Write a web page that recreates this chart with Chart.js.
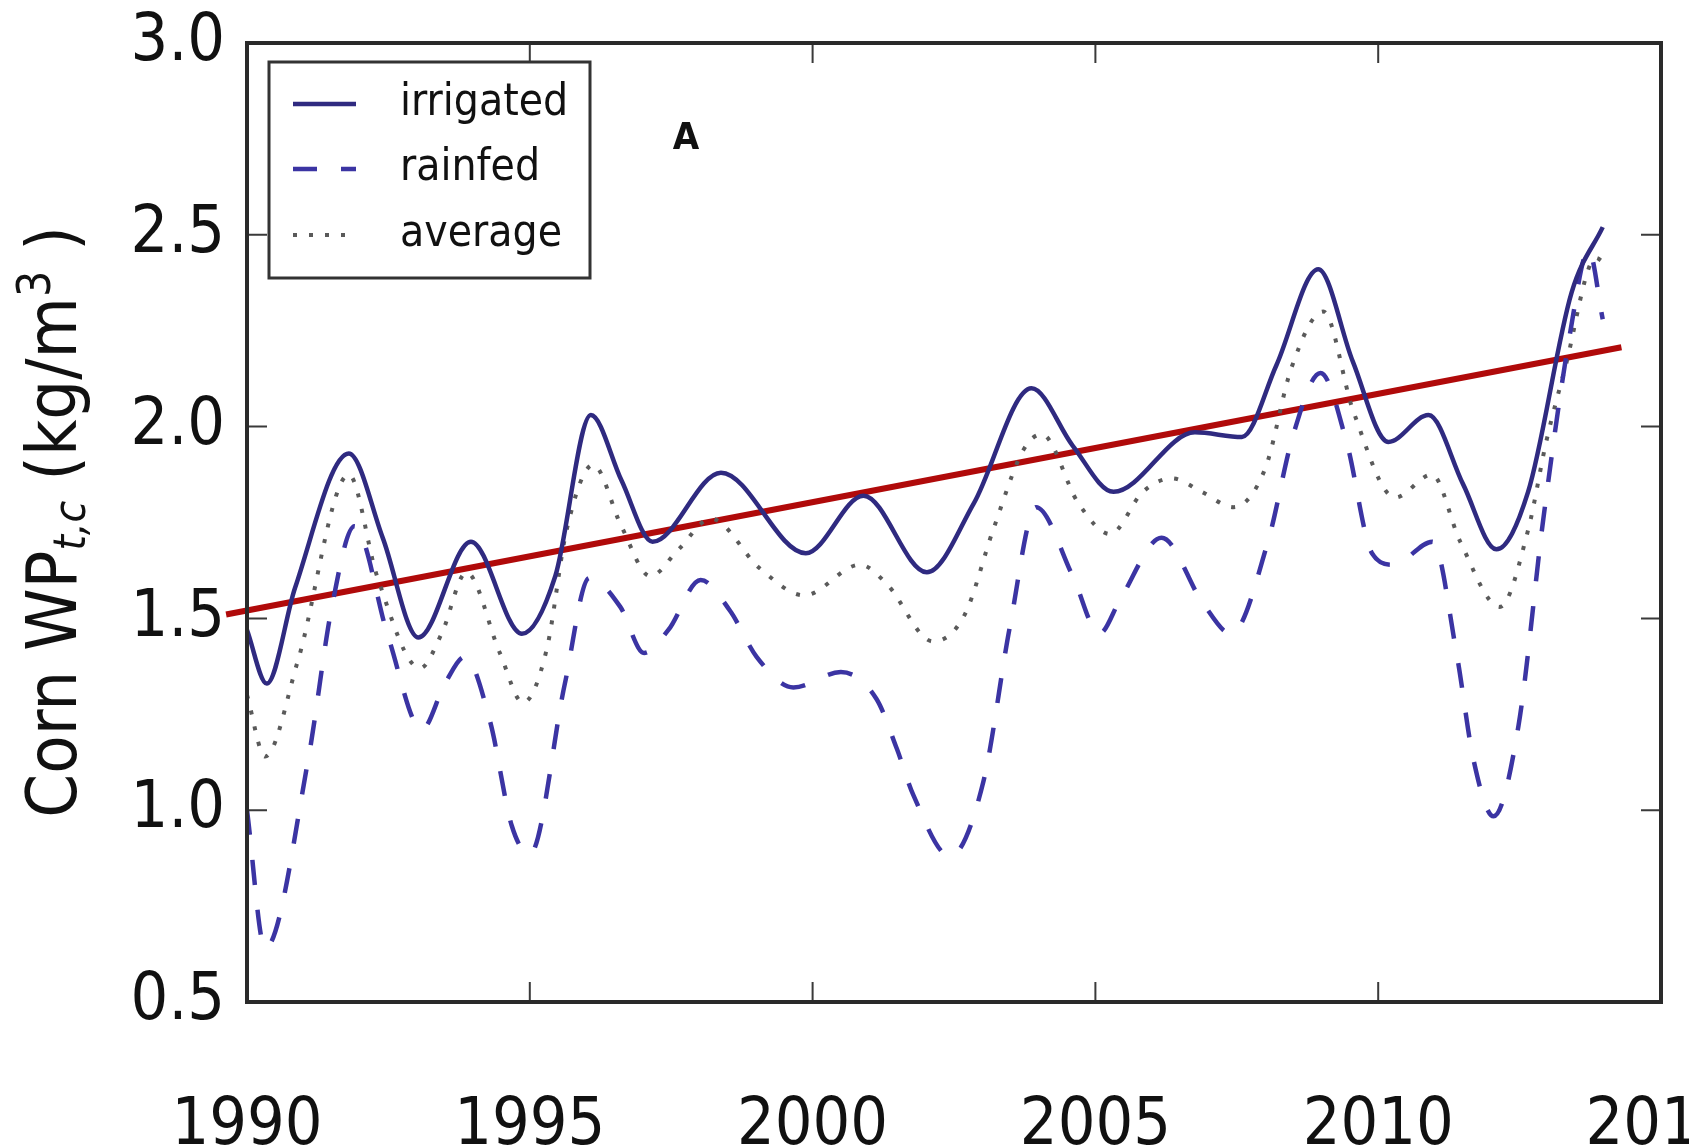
<!DOCTYPE html>
<html>
<head>
<meta charset="utf-8">
<script src="https://cdn.jsdelivr.net/npm/chart.js@4.4.0/dist/chart.umd.min.js"></script>
<style>
  html, body { margin: 0; padding: 0; background: #fff; overflow: hidden; }
  #wrap { width: 1745px; height: 1175px; }
</style>
</head>
<body>
<div id="wrap"><canvas id="chart" width="1745" height="1175"></canvas></div>
<script>
// values (year, water productivity kg/m3)
var irrigatedYears = [1990.0, 1990.35, 1990.85, 1991.8, 1992.4, 1993.03, 1993.96, 1994.86, 1995.45, 1996.08, 1996.62, 1997.17, 1998.38, 1999.88, 2000.9, 2002.02, 2002.85, 2003.87, 2004.6, 2005.32, 2006.76, 2007.59, 2008.2, 2008.94, 2009.55, 2010.18, 2010.89, 2011.5, 2012.09, 2012.65, 2013.42, 2013.97];
var irrigatedValues = [1.47, 1.33, 1.58, 1.93, 1.71, 1.45, 1.70, 1.46, 1.61, 2.03, 1.86, 1.70, 1.88, 1.67, 1.82, 1.62, 1.80, 2.10, 1.95, 1.83, 1.985, 1.973, 2.16, 2.41, 2.17, 1.96, 2.03, 1.85, 1.68, 1.83, 2.35, 2.52];

var rainfedYears = [1990.0, 1990.32, 1991.08, 1991.5, 1991.9, 1992.5, 1993.09, 1993.5, 1993.85, 1994.3, 1994.68, 1995.0, 1995.62, 1996.05, 1996.6, 1997.02, 1997.45, 1998.02, 1998.54, 1999.01, 1999.66, 2000.5, 2001.13, 2001.49, 2001.78, 2002.43, 2003.02, 2003.49, 2003.95, 2004.6, 2005.07, 2005.44, 2006.17, 2006.9, 2007.4, 2008.05, 2008.5, 2008.98, 2009.44, 2009.89, 2010.27, 2010.96, 2011.39, 2011.68, 2012.04, 2012.48, 2012.92, 2013.4, 2013.72, 2013.97];
var rainfedValues = [1.00, 0.64, 1.13, 1.53, 1.74, 1.45, 1.21, 1.33, 1.40, 1.23, 0.96, 0.885, 1.33, 1.605, 1.53, 1.41, 1.47, 1.60, 1.52, 1.40, 1.32, 1.36, 1.29, 1.16, 1.04, 0.88, 1.075, 1.48, 1.79, 1.61, 1.46, 1.55, 1.71, 1.54, 1.46, 1.70, 1.98, 2.14, 1.96, 1.67, 1.64, 1.70, 1.405, 1.135, 0.984, 1.22, 1.76, 2.25, 2.46, 2.28];

var averageYears = [1990.0, 1990.32, 1990.9, 1991.8, 1992.3, 1993.06, 1993.44, 1993.88, 1994.47, 1994.88, 1995.3, 1995.65, 1996.12, 1996.62, 1997.13, 1997.63, 1998.2, 1999.07, 1999.85, 2000.84, 2001.31, 2002.13, 2002.69, 2003.19, 2003.73, 2004.05, 2004.7, 2005.26, 2005.84, 2006.35, 2006.88, 2007.44, 2008.0, 2008.47, 2009.03, 2009.56, 2010.3, 2010.95, 2011.45, 2012.15, 2012.65, 2012.97, 2013.3, 2013.85, 2013.97];
var averageValues = [1.30, 1.14, 1.39, 1.875, 1.61, 1.37, 1.46, 1.62, 1.41, 1.28, 1.42, 1.73, 1.90, 1.74, 1.61, 1.68, 1.76, 1.63, 1.56, 1.64, 1.59, 1.44, 1.51, 1.73, 1.94, 1.98, 1.80, 1.72, 1.83, 1.865, 1.83, 1.79, 1.89, 2.155, 2.30, 2.04, 1.815, 1.875, 1.70, 1.53, 1.73, 1.96, 2.15, 2.44, 2.43];

// red trend line end points
var trendYears = [1989.63, 2014.3];
var trendValues = [1.51, 2.207];

var xTicks = [1990, 1995, 2000, 2005, 2010, 2015];
var yTicks = [0.5, 1.0, 1.5, 2.0, 2.5, 3.0];
var seriesNames = ['irrigated', 'rainfed', 'average'];

var FAMILY = "'DejaVu Sans Condensed', 'DejaVu Sans', sans-serif";
var lineBlue = '#2f2a80';
var dashBlue = '#3b34a3';
var dotGray = '#5a5a5a';

function toPoints(xs, ys) {
    return xs.map(function (x, i) { return { x: x, y: ys[i] }; });
}

// frame, inward ticks, legend, panel letter and y label
var decorPlugin = {
    id: 'decor',
    afterDraw: function (chart) {
        var ctx = chart.ctx;
        var a = chart.chartArea;
        var xs = chart.scales.x, ys = chart.scales.y;
        ctx.save();

        // inward ticks
        ctx.strokeStyle = '#3a3a3a';
        ctx.lineWidth = 2;
        var tl = 20;
        xTicks.slice(1, -1).forEach(function (t) {
            var px = xs.getPixelForValue(t);
            ctx.beginPath();
            ctx.moveTo(px, a.bottom); ctx.lineTo(px, a.bottom - tl);
            ctx.moveTo(px, a.top); ctx.lineTo(px, a.top + tl);
            ctx.stroke();
        });
        yTicks.slice(1, -1).forEach(function (t) {
            var py = ys.getPixelForValue(t);
            ctx.beginPath();
            ctx.moveTo(a.left, py); ctx.lineTo(a.left + tl, py);
            ctx.moveTo(a.right, py); ctx.lineTo(a.right - tl, py);
            ctx.stroke();
        });

        // frame
        ctx.strokeStyle = '#2a2a2a';
        ctx.lineWidth = 4;
        ctx.strokeRect(a.left, a.top, a.right - a.left, a.bottom - a.top);

        // legend
        var lx = 269, ly = 62, lw = 321, lh = 216;
        ctx.fillStyle = '#fff';
        ctx.fillRect(lx, ly, lw, lh);
        ctx.strokeStyle = '#333';
        ctx.lineWidth = 3;
        ctx.strokeRect(lx, ly, lw, lh);
        var rows = [104, 169, 235];
        var styles = [
            { c: lineBlue, d: [], w: 4.5 },
            { c: dashBlue, d: [24, 24], w: 4.5 },
            { c: dotGray, d: [4, 12], w: 4 }
        ];
        ctx.font = '44px ' + FAMILY;
        ctx.textBaseline = 'middle';
        ctx.textAlign = 'left';
        rows.forEach(function (ry, i) {
            ctx.strokeStyle = styles[i].c;
            ctx.lineWidth = styles[i].w;
            ctx.setLineDash(styles[i].d);
            ctx.beginPath();
            ctx.moveTo(293, ry); ctx.lineTo(356, ry);
            ctx.stroke();
            ctx.setLineDash([]);
            ctx.fillStyle = '#111';
            ctx.fillText(seriesNames[i], 400, ry);
        });

        // panel letter
        ctx.font = 'bold 38px ' + FAMILY;
        ctx.textAlign = 'center';
        ctx.fillStyle = '#111';
        ctx.fillText('A', 686, 139);

        // y axis title with sub/superscript
        ctx.translate(76, 522);
        ctx.rotate(-Math.PI / 2);
        ctx.textBaseline = 'alphabetic';
        ctx.textAlign = 'left';
        var big = '70px ' + FAMILY;
        var parts = [
            { t: 'Corn WP', f: big, dy: 0 },
            { t: 't,c', f: 'italic 44px ' + FAMILY, dy: 9 },
            { t: ' (kg/m', f: big, dy: 0 },
            { t: '3', f: '46px ' + FAMILY, dy: -26 },
            { t: ' )', f: big, dy: 0 }
        ];
        var total = 0;
        parts.forEach(function (p) { ctx.font = p.f; p.w = ctx.measureText(p.t).width; total += p.w; });
        var cx = -total / 2;
        parts.forEach(function (p) {
            ctx.font = p.f;
            ctx.fillText(p.t, cx, p.dy);
            cx += p.w;
        });
        ctx.restore();
    }
};

var ctx = document.getElementById('chart');

var myLineChart = new Chart(ctx, {
    type: 'line',
    data: {
        datasets: [
            {
                label: 'irrigated',
                data: toPoints(irrigatedYears, irrigatedValues),
                borderColor: lineBlue,
                borderWidth: 4.5,
                cubicInterpolationMode: 'monotone',
                pointRadius: 0,
                fill: false
            },
            {
                label: 'rainfed',
                data: toPoints(rainfedYears, rainfedValues),
                borderColor: dashBlue,
                borderWidth: 4.5,
                borderDash: [25, 25],
                cubicInterpolationMode: 'monotone',
                pointRadius: 0,
                fill: false
            },
            {
                label: 'average',
                data: toPoints(averageYears, averageValues),
                borderColor: dotGray,
                borderWidth: 4,
                borderDash: [4, 12],
                cubicInterpolationMode: 'monotone',
                pointRadius: 0,
                fill: false
            },
            {
                label: 'trend',
                data: toPoints(trendYears, trendValues),
                borderColor: '#b00a0a',
                borderWidth: 6,
                tension: 0,
                pointRadius: 0,
                fill: false,
                clip: false
            }
        ]
    },
    options: {
        responsive: false,
        animation: false,
        devicePixelRatio: 1,
        layout: { padding: { top: 43, right: 84, left: 0, bottom: 0 } },
        plugins: {
            legend: { display: false },
            tooltip: { enabled: false }
        },
        scales: {
            x: {
                type: 'linear',
                min: 1990,
                max: 2015,
                afterFit: function (scale) {
                    scale.height = 173;
                    scale.paddingLeft = 0;
                    scale.paddingRight = 0;
                },
                afterBuildTicks: function (scale) {
                    scale.ticks = xTicks.map(function (v) { return { value: v }; });
                },
                grid: { display: false, drawTicks: false },
                border: { display: false },
                ticks: {
                    padding: 85,
                    maxRotation: 0,
                    autoSkip: false,
                    color: '#111',
                    font: { family: FAMILY, size: 66 },
                    callback: function (v) { return String(v); }
                }
            },
            y: {
                min: 0.5,
                max: 3.0,
                afterFit: function (scale) {
                    scale.width = 247;
                    scale.paddingTop = 0;
                    scale.paddingBottom = 0;
                },
                afterBuildTicks: function (scale) {
                    scale.ticks = yTicks.map(function (v) { return { value: v }; });
                },
                grid: { display: false, drawTicks: false },
                border: { display: false },
                ticks: {
                    padding: 22,
                    color: '#111',
                    font: { family: FAMILY, size: 66 },
                    callback: function (v) { return v.toFixed(1); }
                }
            }
        }
    },
    plugins: [decorPlugin]
});
</script>
</body>
</html>
